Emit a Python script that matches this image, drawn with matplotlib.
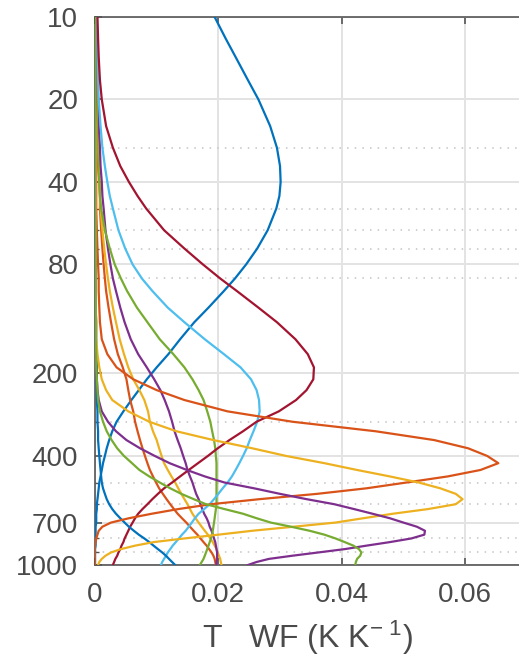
import matplotlib
matplotlib.use("Agg")
import matplotlib.pyplot as plt
from matplotlib.ticker import FixedLocator, NullFormatter, FixedFormatter

plt.rcParams['font.family'] = ['Liberation Sans', 'DejaVu Sans']
plt.rcParams['mathtext.fontset'] = 'custom'
plt.rcParams['mathtext.rm'] = 'Liberation Sans'
plt.rcParams['mathtext.it'] = 'Liberation Sans'

# pressure levels (hPa)
pressure = [10, 12, 14, 17, 20, 25, 30, 35, 40, 45, 50, 60, 70, 80, 90, 100, 115, 130,
            150, 170, 190, 210, 230, 250, 275, 300, 325, 350, 375, 400, 425, 450, 475,
            500, 525, 550, 575, 600, 625, 650, 675, 700, 725, 750, 775, 800, 825, 850,
            875, 900, 925, 950, 975, 1000]

# temperature weighting functions (K/K), one value per pressure level
wf_blue_upper = [0.0194, 0.0212, 0.0228, 0.0248, 0.0265, 0.0284, 0.0295, 0.0300, 0.0301,
                 0.0299, 0.0294, 0.0280, 0.0263, 0.0245, 0.0227, 0.0209, 0.0184, 0.0161,
                 0.0138, 0.0119, 0.0100, 0.0084, 0.0071, 0.0059, 0.0046, 0.0035, 0.0028,
                 0.0023, 0.0019, 0.0016, 0.0013, 0.0011, 0.0009, 0.0007, 0.0006, 0.0005,
                 0.0004, 0.0003, 0.0003, 0.0002, 0.0002, 0.0002, 0.0001, 0.0001, 0.0001,
                 0.0001, 0.0001, 0.0001, 0.0000, 0.0000, 0.0000, 0.0000, 0.0000, 0.0000]
wf_orange_broad = [0.0001, 0.0001, 0.0002, 0.0002, 0.0003, 0.0004, 0.0005, 0.0006, 0.0007,
                   0.0008, 0.0008, 0.0010, 0.0012, 0.0014, 0.0016, 0.0018, 0.0022, 0.0026,
                   0.0031, 0.0037, 0.0045, 0.0051, 0.0054, 0.0057, 0.0062, 0.0065, 0.0069,
                   0.0073, 0.0077, 0.0081, 0.0085, 0.0089, 0.0094, 0.0099, 0.0104, 0.0110,
                   0.0116, 0.0122, 0.0128, 0.0134, 0.0141, 0.0148, 0.0154, 0.0160, 0.0166,
                   0.0171, 0.0176, 0.0181, 0.0185, 0.0189, 0.0192, 0.0194, 0.0195, 0.0196]
wf_yellow_broad = [0.0001, 0.0001, 0.0002, 0.0002, 0.0003, 0.0004, 0.0005, 0.0006, 0.0007,
                   0.0008, 0.0009, 0.0012, 0.0015, 0.0018, 0.0021, 0.0024, 0.0029, 0.0034,
                   0.0040, 0.0047, 0.0054, 0.0062, 0.0072, 0.0080, 0.0086, 0.0089, 0.0094,
                   0.0100, 0.0104, 0.0108, 0.0112, 0.0118, 0.0124, 0.0130, 0.0135, 0.0140,
                   0.0145, 0.0150, 0.0154, 0.0158, 0.0163, 0.0168, 0.0173, 0.0178, 0.0183,
                   0.0187, 0.0191, 0.0194, 0.0197, 0.0199, 0.0201, 0.0203, 0.0204, 0.0205]
wf_purple_broad = [0.0002, 0.0003, 0.0003, 0.0004, 0.0005, 0.0006, 0.0008, 0.0009, 0.0011,
                   0.0012, 0.0014, 0.0017, 0.0021, 0.0025, 0.0029, 0.0034, 0.0041, 0.0048,
                   0.0058, 0.0070, 0.0084, 0.0096, 0.0106, 0.0113, 0.0120, 0.0125, 0.0129,
                   0.0134, 0.0139, 0.0143, 0.0147, 0.0150, 0.0154, 0.0158, 0.0161, 0.0164,
                   0.0168, 0.0171, 0.0174, 0.0177, 0.0181, 0.0184, 0.0186, 0.0189, 0.0191,
                   0.0193, 0.0195, 0.0196, 0.0197, 0.0198, 0.0198, 0.0198, 0.0197, 0.0197]
wf_green_broad = [0.0001, 0.0001, 0.0002, 0.0002, 0.0003, 0.0003, 0.0004, 0.0005, 0.0007,
                  0.0008, 0.0010, 0.0016, 0.0024, 0.0032, 0.0042, 0.0052, 0.0068, 0.0085,
                  0.0105, 0.0127, 0.0145, 0.0158, 0.0168, 0.0176, 0.0182, 0.0187, 0.0190,
                  0.0193, 0.0195, 0.0196, 0.0197, 0.0197, 0.0197, 0.0197, 0.0197, 0.0197,
                  0.0197, 0.0197, 0.0196, 0.0195, 0.0194, 0.0193, 0.0192, 0.0191, 0.0190,
                  0.0188, 0.0186, 0.0184, 0.0182, 0.0180, 0.0178, 0.0176, 0.0173, 0.0170]
wf_lightblue = [0.0002, 0.0003, 0.0004, 0.0005, 0.0006, 0.0009, 0.0012, 0.0016, 0.0020,
                0.0024, 0.0029, 0.0038, 0.0049, 0.0061, 0.0076, 0.0093, 0.0118, 0.0145,
                0.0178, 0.0209, 0.0236, 0.0253, 0.0262, 0.0266, 0.0267, 0.0263, 0.0257,
                0.0251, 0.0246, 0.0240, 0.0234, 0.0228, 0.0222, 0.0215, 0.0207, 0.0200,
                0.0193, 0.0186, 0.0177, 0.0168, 0.0162, 0.0157, 0.0152, 0.0147, 0.0141,
                0.0136, 0.0131, 0.0126, 0.0122, 0.0118, 0.0115, 0.0112, 0.0109, 0.0107]
wf_darkred = [0.0004, 0.0005, 0.0006, 0.0008, 0.0011, 0.0018, 0.0029, 0.0041, 0.0055,
              0.0069, 0.0083, 0.0112, 0.0145, 0.0175, 0.0203, 0.0230, 0.0265, 0.0295,
              0.0325, 0.0345, 0.0355, 0.0354, 0.0343, 0.0326, 0.0298, 0.0262, 0.0240,
              0.0218, 0.0199, 0.0183, 0.0167, 0.0152, 0.0138, 0.0125, 0.0112, 0.0102,
              0.0093, 0.0085, 0.0077, 0.0070, 0.0065, 0.0061, 0.0057, 0.0054, 0.0051,
              0.0048, 0.0046, 0.0043, 0.0041, 0.0038, 0.0036, 0.0033, 0.0031, 0.0029]
wf_blue_surface = [0.0000, 0.0000, 0.0000, 0.0000, 0.0000, 0.0000, 0.0000, 0.0000, 0.0001,
                   0.0001, 0.0001, 0.0001, 0.0001, 0.0001, 0.0001, 0.0001, 0.0001, 0.0002,
                   0.0002, 0.0002, 0.0003, 0.0003, 0.0003, 0.0003, 0.0004, 0.0004, 0.0005,
                   0.0005, 0.0006, 0.0007, 0.0008, 0.0009, 0.0010, 0.0011, 0.0013, 0.0016,
                   0.0019, 0.0023, 0.0028, 0.0034, 0.0041, 0.0048, 0.0055, 0.0063, 0.0071,
                   0.0080, 0.0088, 0.0095, 0.0102, 0.0109, 0.0115, 0.0120, 0.0125, 0.0130]
wf_orange_peak = [0.0000, 0.0000, 0.0000, 0.0001, 0.0001, 0.0001, 0.0001, 0.0002, 0.0002,
                  0.0002, 0.0002, 0.0003, 0.0004, 0.0005, 0.0006, 0.0006, 0.0007, 0.0008,
                  0.0011, 0.0020, 0.0035, 0.0062, 0.0100, 0.0145, 0.0215, 0.0320, 0.0455,
                  0.0550, 0.0605, 0.0636, 0.0654, 0.0625, 0.0572, 0.0505, 0.0440, 0.0360,
                  0.0267, 0.0188, 0.0135, 0.0092, 0.0055, 0.0026, 0.0012, 0.0006, 0.0004,
                  0.0002, 0.0001, 0.0000, 0.0000, 0.0000, 0.0000, 0.0000, 0.0000, 0.0000]
wf_yellow_peak = [0.0000, 0.0000, 0.0000, 0.0000, 0.0000, 0.0001, 0.0001, 0.0001, 0.0001,
                  0.0001, 0.0001, 0.0001, 0.0001, 0.0001, 0.0001, 0.0001, 0.0001, 0.0002,
                  0.0002, 0.0004, 0.0007, 0.0011, 0.0018, 0.0028, 0.0054, 0.0088, 0.0132,
                  0.0192, 0.0255, 0.0310, 0.0372, 0.0425, 0.0478, 0.0525, 0.0560, 0.0585,
                  0.0596, 0.0585, 0.0540, 0.0483, 0.0435, 0.0390, 0.0322, 0.0255, 0.0200,
                  0.0145, 0.0095, 0.0065, 0.0042, 0.0026, 0.0017, 0.0011, 0.0007, 0.0005]
wf_purple_peak = [0.0000, 0.0000, 0.0000, 0.0000, 0.0000, 0.0000, 0.0000, 0.0000, 0.0000,
                  0.0000, 0.0000, 0.0000, 0.0000, 0.0000, 0.0000, 0.0000, 0.0000, 0.0000,
                  0.0000, 0.0001, 0.0002, 0.0003, 0.0004, 0.0006, 0.0011, 0.0021, 0.0034,
                  0.0051, 0.0073, 0.0097, 0.0121, 0.0149, 0.0178, 0.0210, 0.0258, 0.0300,
                  0.0343, 0.0388, 0.0420, 0.0450, 0.0478, 0.0500, 0.0522, 0.0535, 0.0534,
                  0.0513, 0.0478, 0.0440, 0.0405, 0.0362, 0.0320, 0.0282, 0.0262, 0.0248]
wf_green_peak = [0.0000, 0.0000, 0.0000, 0.0000, 0.0000, 0.0000, 0.0000, 0.0000, 0.0000,
                 0.0000, 0.0000, 0.0001, 0.0001, 0.0001, 0.0001, 0.0001, 0.0001, 0.0001,
                 0.0001, 0.0002, 0.0002, 0.0003, 0.0004, 0.0005, 0.0008, 0.0013, 0.0019,
                 0.0027, 0.0036, 0.0047, 0.0060, 0.0072, 0.0088, 0.0105, 0.0122, 0.0140,
                 0.0160, 0.0180, 0.0210, 0.0240, 0.0262, 0.0285, 0.0318, 0.0348, 0.0372,
                 0.0390, 0.0405, 0.0419, 0.0428, 0.0432, 0.0430, 0.0425, 0.0423, 0.0422]

profiles = [wf_blue_upper, wf_orange_broad, wf_yellow_broad, wf_purple_broad, wf_green_broad,
            wf_lightblue, wf_darkred, wf_blue_surface, wf_orange_peak, wf_yellow_peak,
            wf_purple_peak, wf_green_peak]
colors = ['#0072BD', '#D95319', '#EDB120', '#7E2F8E', '#77AC30', '#4DBEEE', '#A2142F']

ytick_values = [10, 20, 40, 80, 200, 400, 700, 1000]
ytick_labels = ['10', '20', '40', '80', '200', '400', '700', '1000']
yminor_values = [30, 50, 60, 70, 90, 300, 500, 600, 800, 900]
xtick_values = [0, 0.02, 0.04, 0.06]
xtick_labels = ['0', '0.02', '0.04', '0.06']

fig = plt.figure(figsize=(5.19, 6.59), dpi=100)
ax = fig.add_axes([95 / 519, 94 / 659, 424 / 519, 548 / 659])

for i, prof in enumerate(profiles):
    ax.plot(prof, pressure, color=colors[i % len(colors)], lw=1.6, zorder=3,
            solid_joinstyle='round')

ax.set_yscale('log')
ax.set_ylim(1000, 10)
ax.set_xlim(0, 0.06875)

ax.yaxis.set_major_locator(FixedLocator(ytick_values))
ax.yaxis.set_major_formatter(FixedFormatter(ytick_labels))
ax.yaxis.set_minor_locator(FixedLocator(yminor_values))
ax.yaxis.set_minor_formatter(NullFormatter())
ax.set_xticks(xtick_values)
ax.set_xticklabels(xtick_labels)

text_color = '#4a4a4a'
ax.tick_params(axis='both', which='major', direction='in', length=5, width=1.2,
               colors='#555555', labelcolor=text_color, labelsize=20, top=True)
ax.tick_params(axis='y', which='major', pad=12)
ax.tick_params(axis='x', which='major', pad=12)
ax.tick_params(axis='y', which='minor', direction='in', length=3, width=1.0, colors='#555555')

ax.grid(True, which='major', color='#e3e3e3', lw=1.4, zorder=0)
ax.grid(True, which='minor', axis='y', color='#c4c4c4', lw=1.1, linestyle=(0, (1, 4)), zorder=0)
ax.set_axisbelow(True)

for side in ['left', 'bottom', 'top']:
    ax.spines[side].set_color('#555555')
    ax.spines[side].set_linewidth(1.2)
ax.spines['right'].set_visible(False)

ax.set_xlabel(r'T   WF (K K$^{\mathregular{-\ 1}}$)', fontsize=23, color=text_color, labelpad=8)

fig.savefig('out.png', dpi=100)
